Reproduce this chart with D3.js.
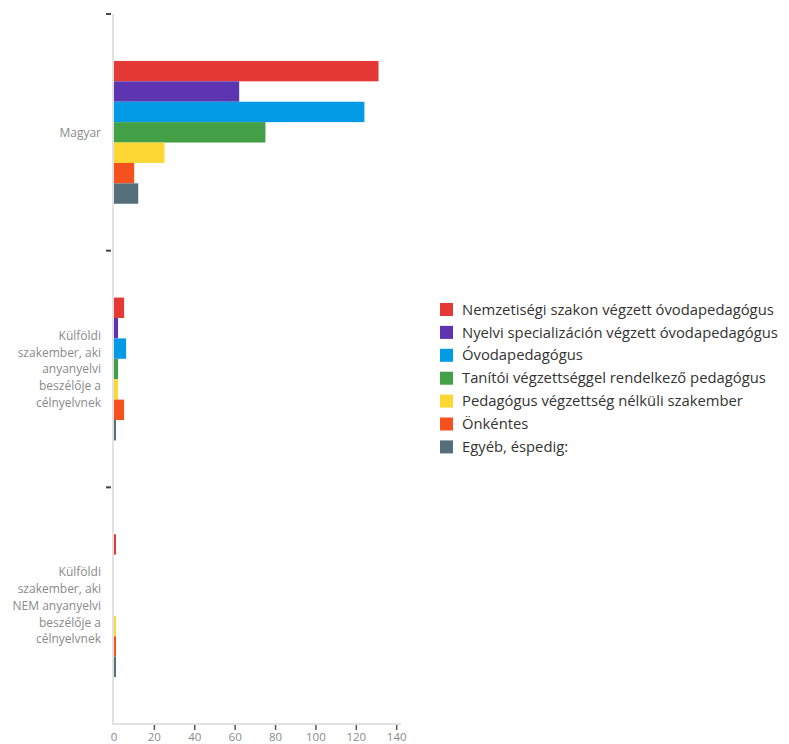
<!DOCTYPE html>
<html><head><meta charset="utf-8">
<script src="https://cdn.jsdelivr.net/npm/d3@7"></script>
<style>body{margin:0;background:#fff;} svg{display:block;}</style>
</head><body>
<svg id="chart" width="789" height="744"></svg>
<script>
const categories = [
  "Magyar",
  "Külföldi szakember, aki anyanyelvi beszélője a célnyelvnek",
  "Külföldi szakember, aki NEM anyanyelvi beszélője a célnyelvnek"
];
const categoryLines = [
  ["Magyar"],
  ["Külföldi", "szakember, aki", "anyanyelvi", "beszélője a", "célnyelvnek"],
  ["Külföldi", "szakember, aki", "NEM anyanyelvi", "beszélője a", "célnyelvnek"]
];
const seriesNames = [
  "Nemzetiségi szakon végzett óvodapedagógus",
  "Nyelvi specializáción végzett óvodapedagógus",
  "Óvodapedagógus",
  "Tanítói végzettséggel rendelkező pedagógus",
  "Pedagógus végzettség nélküli szakember",
  "Önkéntes",
  "Egyéb, éspedig:"
];
const colors = ["#e53935", "#5e35b1", "#039be5", "#43a047", "#fdd835", "#f4511e", "#546e7a"];
// values[series][category]
const values = [
  [131, 5, 1],
  [62, 2, 0],
  [124, 6, 0],
  [75, 2, 0],
  [25, 2, 1],
  [10, 5, 1],
  [12, 1, 1]
];
const xTicks = [0, 20, 40, 60, 80, 100, 120, 140];

(function () {
const svg = d3.select("#chart");
const mLeft = 114, mRight = 396.7, mTop = 14, mBottom = 724;

const x = d3.scaleLinear().domain([0, 140]).range([mLeft, mRight]);
const y0 = d3.scaleBand().domain(categories).range([mTop, mBottom]).paddingInner(0).paddingOuter(0);
const y1 = d3.scaleBand().domain(seriesNames).range([0, y0.bandwidth()]).paddingOuter(2.3).paddingInner(0);

// bars
const g = svg.append("g");
categories.forEach((c, ci) => {
  seriesNames.forEach((s, si) => {
    const v = values[si][ci];
    if (v <= 0) return;
    g.append("rect")
      .attr("x", x(0))
      .attr("y", y0(c) + y1(s))
      .attr("width", x(v) - x(0))
      .attr("height", y1.bandwidth())
      .attr("fill", colors[si]);
  });
});

// y axis line
svg.append("line").attr("x1", mLeft - 1).attr("x2", mLeft - 1).attr("y1", mTop).attr("y2", mBottom)
  .attr("stroke", "#e2e2e2").attr("stroke-width", 2);
// x axis line
svg.append("line").attr("x1", mLeft - 2).attr("x2", mRight + 4).attr("y1", mBottom).attr("y2", mBottom)
  .attr("stroke", "#e2e2e2").attr("stroke-width", 2);

// y ticks at band boundaries
const boundaries = categories.map(c => y0(c));
svg.selectAll(".ytick").data(boundaries).enter().append("line")
  .attr("x1", mLeft - 8).attr("x2", mLeft - 3)
  .attr("y1", d => d).attr("y2", d => d)
  .attr("stroke", "#444").attr("stroke-width", 2);

// y labels
categories.forEach((c, ci) => {
  const lines = categoryLines[ci];
  const lh = 16.7;
  const cy = y0(c) + y0.bandwidth() / 2;
  const t = svg.append("text")
    .attr("text-anchor", "end")
    .attr("font-family", "'Open Sans', sans-serif")
    .attr("font-size", 12)
    .attr("fill", "#8a8a8a");
  lines.forEach((ln, i) => {
    t.append("tspan").attr("x", 101)
      .attr("y", cy + (i - (lines.length - 1) / 2) * lh)
      .attr("dy", "0.35em").text(ln);
  });
});

// x ticks
svg.selectAll(".xtick").data(xTicks.filter(d => d > 0)).enter().append("line")
  .attr("x1", d => x(d)).attr("x2", d => x(d))
  .attr("y1", mBottom + 1).attr("y2", mBottom + 6)
  .attr("stroke", "#555").attr("stroke-width", 1.5);
svg.selectAll(".xlab").data(xTicks).enter().append("text")
  .attr("x", d => x(d)).attr("y", mBottom + 17)
  .attr("text-anchor", "middle")
  .attr("font-family", "'Open Sans', sans-serif")
  .attr("font-size", 11.5)
  .attr("fill", "#8a8a8a")
  .text(d => d);

// legend
const lg = svg.append("g").attr("transform", "translate(440,303)");
seriesNames.forEach((s, i) => {
  const row = lg.append("g").attr("transform", `translate(0,${i * 22.9})`);
  row.append("rect").attr("width", 13).attr("height", 13).attr("fill", colors[i]);
  row.append("text").attr("x", 22).attr("y", 6.5).attr("dy", "0.35em")
    .attr("font-family", "'Open Sans', sans-serif")
    .attr("font-size", 14.8)
    .attr("fill", "#333")
    .text(s);
});
})();
</script>
</body></html>
